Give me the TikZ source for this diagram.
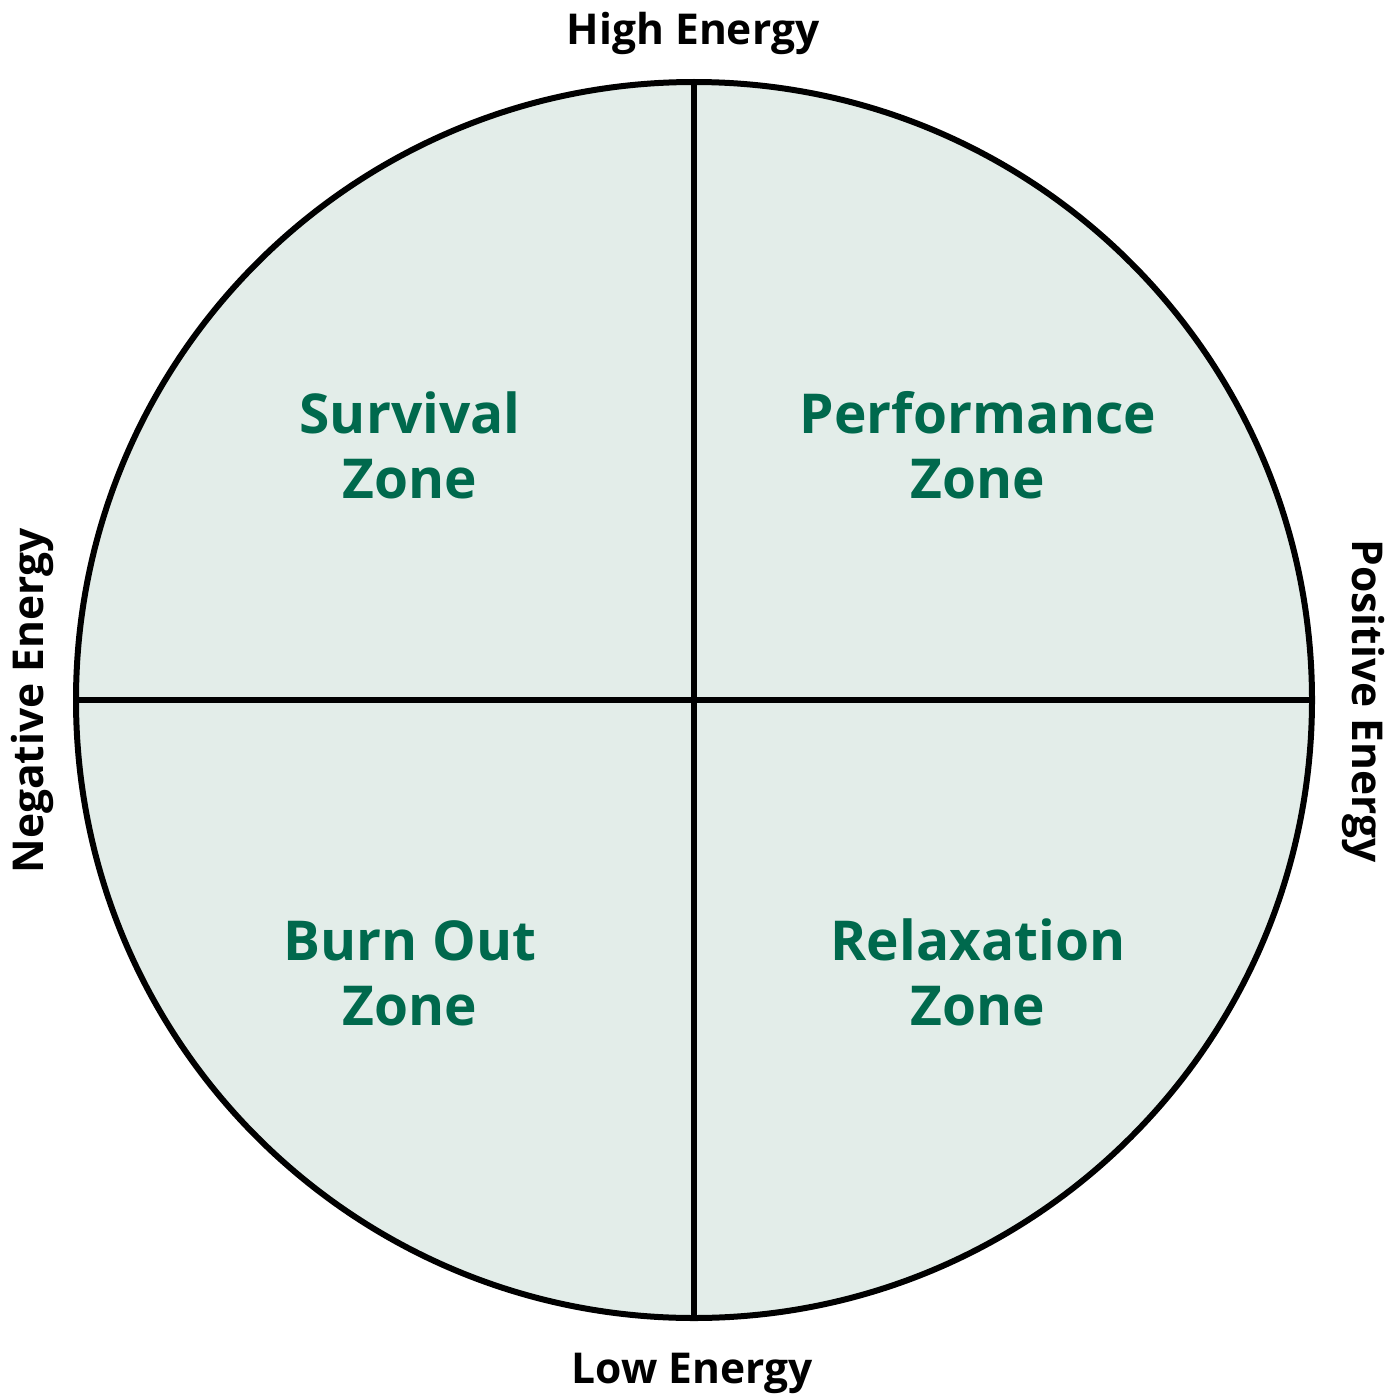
\documentclass[tikz,border=0pt]{standalone}
\usepackage{fontspec}
\setmainfont{Open Sans}
\definecolor{zonefill}{HTML}{E3EDE9}
\definecolor{zonetext}{HTML}{00694D}
\begin{document}
\begin{tikzpicture}[x=1pt,y=-1pt,
  axislabel/.style={font=\fontsize{42.5}{50}\selectfont\bfseries, text=black, inner sep=0pt, anchor=base},
  zonelabel/.style={font=\fontsize{55}{65}\selectfont\bfseries, text=zonetext, inner sep=0pt, anchor=base},
  rim/.style={line width=6pt, draw=black}]
\useasboundingbox (0,0) rectangle (1395,1394);
\coordinate (c) at (694,700);
\coordinate (top) at (694,82);
\coordinate (bottom) at (694,1318);
\coordinate (left) at (76,700);
\coordinate (right) at (1312,700);
\fill[zonefill] (c) circle (618);
\draw[rim] (top) -- (bottom);
\draw[rim] (left) -- (right);
\draw[rim] (c) circle (618);
\node[axislabel] (high) at (693,45) {High Energy};
\node[axislabel] (low) at (692,1383) {Low Energy};
\node[axislabel, rotate=90] (neg) at (43,701) {Negative Energy};
\node[axislabel, rotate=-90] (pos) at (1352,701) {Positive Energy};
\node[zonelabel] (s1) at (410,433) {Survival};
\node[zonelabel] (s2) at (410,498) {Zone};
\node[zonelabel] (p1) at (978,433) {Performance};
\node[zonelabel] (p2) at (978,498) {Zone};
\node[zonelabel] (b1) at (410,960) {Burn Out};
\node[zonelabel] (b2) at (410,1025) {Zone};
\node[zonelabel] (r1) at (978,960) {Relaxation};
\node[zonelabel] (r2) at (978,1025) {Zone};
\end{tikzpicture}
\end{document}
